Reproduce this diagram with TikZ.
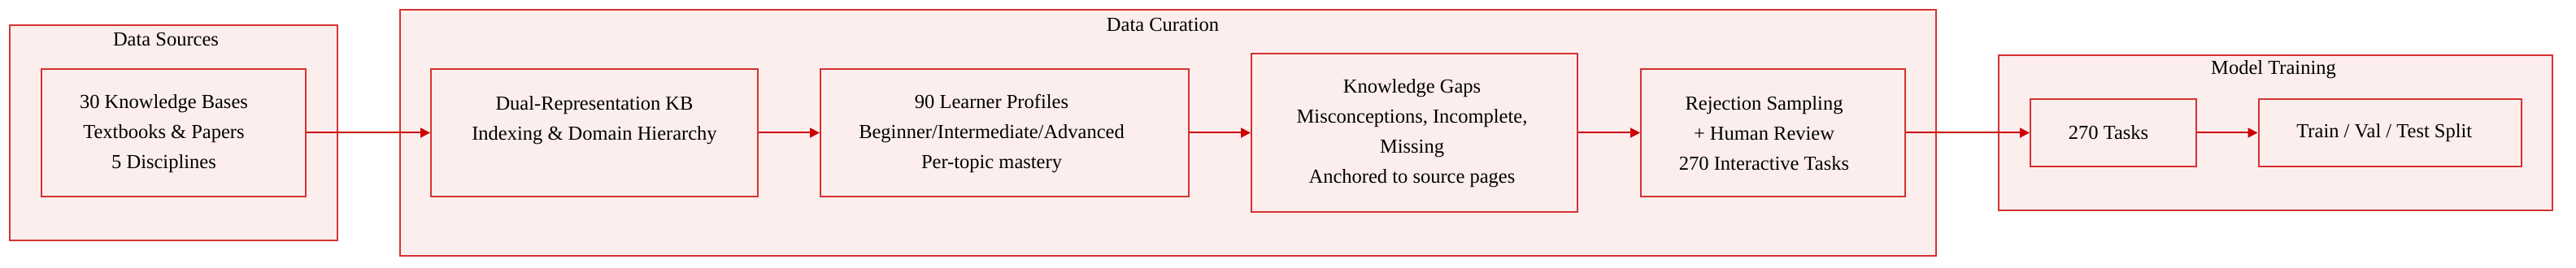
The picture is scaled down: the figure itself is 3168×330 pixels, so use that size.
\documentclass[tikz,border=0pt]{standalone}
\usepackage{fontspec}
\setmainfont{Liberation Serif}
\usetikzlibrary{arrows.meta}
\definecolor{boxred}{RGB}{212,50,50}
\definecolor{arrred}{RGB}{204,0,0}
\definecolor{boxfill}{RGB}{253,238,238}
\tikzset{
  cluster/.style={draw=boxred, fill=boxfill, line width=1pt},
  stepbox/.style={draw=boxred, fill=boxfill, line width=1pt, inner sep=0pt},
  steptext/.style={inner sep=0pt, align=center, font=\fontsize{12.25pt}{18.5pt}\selectfont},
  ctitle/.style={inner sep=0pt, font=\fontsize{12.25pt}{18.5pt}\selectfont},
  flow/.style={draw=arrred, line width=1pt, -{Triangle[length=6pt,width=6pt]}}
}
\begin{document}
\begin{tikzpicture}[x=0.5pt,y=-0.5pt]
\useasboundingbox (0,0) rectangle (3168,330);
% clusters
\draw[cluster] (12,31) rectangle (415,296);
\node[ctitle] (tds) at (204,48.5) {Data Sources};
\draw[cluster] (491.5,12) rectangle (2381,315);
\node[ctitle] (tdc) at (1430,30.5) {Data Curation};
\draw[cluster] (2458,68) rectangle (3139,259);
\node[ctitle] (tmt) at (2796,85.5) {Model Training};
% steps
\node[stepbox, minimum width=162.5pt, minimum height=78.5pt] (src) at (213.5,163.5) {};
\node[steptext] (srct) at ([xshift=-6pt,yshift=-0.5pt]src.center)
  {30 Knowledge Bases\\Textbooks \& Papers\\5 Disciplines};
\node[stepbox, minimum width=201pt, minimum height=78.5pt] (kb) at (731,163.5) {};
\node[steptext] (kbt) at ([yshift=-0.5pt]kb.center)
  {Dual-Representation KB\\Indexing \& Domain Hierarchy\\\mbox{}};
\node[stepbox, minimum width=226.5pt, minimum height=78.5pt] (prof) at (1235.5,163.5) {};
\node[steptext] (proft) at ([xshift=-8pt,yshift=-0.5pt]prof.center)
  {90 Learner Profiles\\Beginner/Intermediate/Advanced\\Per-topic mastery};
\node[stepbox, minimum width=200.5pt, minimum height=97.5pt] (gaps) at (1739.5,163.5) {};
\node[steptext] (gapst) at ([xshift=-1.5pt,yshift=-0.5pt]gaps.center)
  {Knowledge Gaps\\Misconceptions, Incomplete,\\Missing\\Anchored to source pages};
\node[stepbox, minimum width=162.5pt, minimum height=78.5pt] (rej) at (2180.5,163.5) {};
\node[steptext] (rejt) at ([xshift=-5.5pt,yshift=-0.5pt]rej.center)
  {Rejection Sampling\\+ Human Review\\270 Interactive Tasks};
\node[stepbox, minimum width=102pt, minimum height=41.5pt] (tasks) at (2599,163.5) {};
\node[steptext] (taskst) at ([xshift=-3pt]tasks.center) {270 Tasks};
\node[stepbox, minimum width=161.75pt, minimum height=41.5pt] (split) at (2939.25,163.5) {};
\node[steptext] (splitt) at ([xshift=-3.5pt]split.center) {Train / Val / Test Split};
% connectors
\draw[flow] (src) -- (kb);
\draw[flow] (kb) -- (prof);
\draw[flow] (prof) -- (gaps);
\draw[flow] (gaps) -- (rej);
\draw[flow] (rej) -- (tasks);
\draw[flow] (tasks) -- (split);
\end{tikzpicture}
\end{document}
